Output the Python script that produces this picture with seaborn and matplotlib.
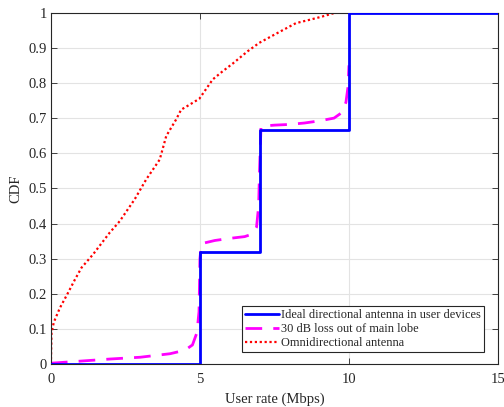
import numpy as np
import pandas as pd
import matplotlib
matplotlib.use("Agg")
import matplotlib.pyplot as plt
import seaborn as sns

# ── Data ─────────────────────────────────────────────────────────────────────
ideal_rate = [0, 5, 7, 10, 15]
ideal_cdf  = [0, 0.32, 0.665, 1.0, 1.0]

loss_rate = [0.0, 0.5, 1.0, 2.0, 3.0, 4.0, 4.5, 4.75, 4.9, 4.97, 5.0, 5.05,
             5.5, 6.0, 6.5, 6.75, 6.9, 6.97, 7.0, 7.05, 7.5, 8.0, 8.5, 9.0,
             9.5, 9.75, 9.9, 9.97, 10.0]
loss_cdf  = [0.003, 0.006, 0.009, 0.015, 0.02, 0.03, 0.04, 0.055, 0.09, 0.15,
             0.30, 0.343, 0.352, 0.358, 0.363, 0.37, 0.39, 0.45, 0.55, 0.677,
             0.68, 0.682, 0.686, 0.692, 0.70, 0.715, 0.745, 0.79, 0.85]

omni_rate = [0.0, 0.02, 0.1, 0.3, 0.58, 0.8, 1.03, 1.41, 1.97, 2.31, 2.81,
             3.2, 3.65, 3.87, 4.2, 4.37, 4.65, 4.98, 5.43, 5.76, 6.1, 6.6,
             6.99, 7.6, 8.22, 8.7, 9.11, 9.55, 10.0]
omni_cdf  = [0.0, 0.09, 0.12, 0.16, 0.204, 0.24, 0.275, 0.312, 0.374, 0.407,
             0.469, 0.526, 0.582, 0.649, 0.696, 0.724, 0.738, 0.755, 0.81,
             0.833, 0.855, 0.89, 0.914, 0.942, 0.97, 0.98, 0.989, 1.0, 1.0]

labels = ["Ideal directional antenna in user devices",
          "30 dB loss out of main lobe",
          "Omnidirectional antenna"]

# ── Style ────────────────────────────────────────────────────────────────────
sns.set_theme(style="whitegrid")
plt.rcParams["font.family"] = ["Liberation Serif", "DejaVu Serif"]

fig = plt.figure(figsize=(5.04, 4.07), dpi=100)
ax = fig.add_axes([0.101, 0.105, 0.887, 0.864])

sns.lineplot(x=ideal_rate, y=ideal_cdf, ax=ax, color="#0000ff", lw=2.0,
             drawstyle="steps-post", estimator=None, sort=False,
             label=labels[0], zorder=3)
sns.lineplot(x=loss_rate, y=loss_cdf, ax=ax, color="#ff00ff", lw=2.0,
             estimator=None, sort=False, label=labels[1], zorder=2)
sns.lineplot(x=omni_rate, y=omni_cdf, ax=ax, color="#ff0000", lw=1.6,
             estimator=None, sort=False, label=labels[2], zorder=2)
ax.lines[1].set_dashes([6, 4])
ax.lines[2].set_linestyle((0, (1, 1.2)))

ax.set_xlim(0, 15)
ax.set_ylim(0, 1)
ax.set_xticks([0, 5, 10, 15])
ax.set_yticks(np.arange(0, 1.01, 0.1))
ax.set_yticklabels(["0", "0.1", "0.2", "0.3", "0.4", "0.5", "0.6", "0.7",
                    "0.8", "0.9", "1"])
ax.set_xlabel("User rate (Mbps)", fontsize=10.5, labelpad=5)
ax.set_ylabel("CDF", fontsize=10.5, labelpad=4)

ax.grid(True, color="#e3e3e3", lw=0.8)
for s in ax.spines.values():
    s.set_color("#262626")
    s.set_linewidth(0.8)
ax.tick_params(direction="in", length=4, width=0.6, colors="#262626",
               labelsize=10.5, top=True, right=True, bottom=True, left=True)
ax.tick_params(axis="x", pad=6)
ax.tick_params(axis="y", pad=3)

leg = ax.legend(loc="lower right", bbox_to_anchor=(0.969, 0.035),
                borderaxespad=0, fontsize=8.9, frameon=True, fancybox=False,
                edgecolor="#262626", framealpha=1, borderpad=0.25,
                handlelength=2.75, handletextpad=0.15, labelspacing=0.15)
leg.get_frame().set_linewidth(0.8)

fig.savefig("out.png", dpi=100)
